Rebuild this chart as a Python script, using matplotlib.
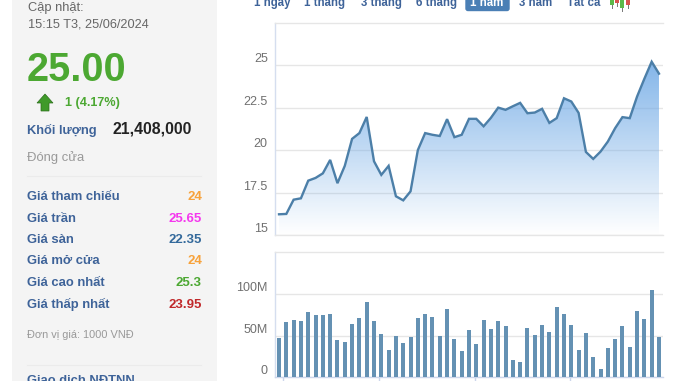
import matplotlib
matplotlib.use("Agg")
import matplotlib.pyplot as plt
import numpy as np
from matplotlib.patches import FancyBboxPatch, Polygon, Rectangle

W, H = 678, 381

prices = [16.22, 16.24, 17.08, 17.16, 18.2, 18.36, 18.63, 19.42, 18.05, 19.07, 20.66, 21.0, 21.95,
          19.34, 18.54, 19.07, 17.28, 17.04, 17.57, 20.0, 21.0, 20.9, 20.83, 21.82, 20.76, 20.9,
          21.84, 21.84, 21.4, 21.9, 22.5, 22.37, 22.58, 22.78, 22.17, 22.21, 22.43, 21.6, 21.88,
          23.05, 22.86, 22.19, 19.89, 19.48, 19.91, 20.5, 21.29, 21.94, 21.88, 23.15, 24.2, 25.2, 24.5]
volumes = [47.2, 66.5, 69, 67.7, 78.6, 75, 75, 76.2, 44.8, 42.3, 64.1, 71.4, 90.7, 67.7, 52, 32.7,
           49.6, 41.1, 48.4, 71.4, 76.2, 72.6, 49.6, 82.3, 46, 31.5, 56.9, 39.9, 69, 58.1, 67.7,
           61.7, 20.6, 18.1, 59.3, 50.8, 62.9, 54.4, 84.7, 76.2, 62.9, 32.7, 53.2, 24.2, 9.7, 35.1,
           46, 61.7, 36.3, 79.8, 70.2, 105.2, 48.4]
price_ticks = [15, 17.5, 20, 22.5, 25]
price_labels = ["15", "17.5", "20", "22.5", "25"]
vol_ticks = [0, 50, 100]
vol_labels = ["0", "50M", "100M"]
vol_xticks = [0.55, 13.7, 26.8, 39.8]

ranges = ["1 ngày", "1 tháng", "3 tháng", "6 tháng", "1 năm", "3 năm", "Tất cả"]
range_x = [272.5, 325, 381, 436, 487, 535.5, 584]

info_labels = ["Giá tham chiếu", "Giá trần", "Giá sàn", "Giá mở cửa", "Giá cao nhất", "Giá thấp nhất"]
info_values = ["24", "25.65", "22.35", "24", "25.3", "23.95"]
info_colors = ["#f7a23b", "#f437ee", "#33699b", "#f7a23b", "#4ca832", "#c0282a"]
info_y = [197, 218.5, 240, 261.5, 283, 304.5]

plt.rcParams["font.family"] = ["Liberation Sans", "DejaVu Sans"]
fig = plt.figure(figsize=(W / 100, H / 100), dpi=100, facecolor="white")


def px_axes(x0, y0, x1, y1):
    return fig.add_axes([x0 / W, 1 - y1 / H, (x1 - x0) / W, (y1 - y0) / H])


# page layer in pixel coordinates
page = fig.add_axes([0, 0, 1, 1])
page.set_xlim(0, W)
page.set_ylim(H, 0)
page.axis("off")

page.add_patch(Rectangle((12, 0), 205, H, fc="#f4f4f4", ec="none"))
page.plot([27, 201], [176, 176], color="#ebebeb", lw=0.8)
page.plot([27, 201], [365, 365], color="#ebebeb", lw=0.8)

BLUE = "#3e6399"
GREEN = "#4ca832"
page.text(27.5, 8.5, "Cập nhật:", fontsize=9.3, color="#666666", va="center")
page.text(27.5, 24.5, "15:15 T3, 25/06/2024", fontsize=9.2, color="#666666", va="center")
page.text(27, 70, "25.00", fontsize=28.5, fontweight="bold", color=GREEN, va="center")
page.add_patch(Polygon([(45, 94), (53, 103), (49, 103), (49, 111), (41, 111), (41, 103), (37, 103)],
                       fc="#3f9a2a", ec="#2c6e1c", lw=0.5))
page.text(65, 103, "1 (4.17%)", fontsize=9.1, fontweight="bold", color=GREEN, va="center")
page.text(27, 130, "Khối lượng", fontsize=9.3, fontweight="bold", color=BLUE, va="center")
page.text(192, 128.5, "21,408,000", fontsize=11.4, fontweight="bold", color="#222222", va="center", ha="right")
page.text(27, 157.5, "Đóng cửa", fontsize=9.4, color="#999999", va="center")

for lab, val, col, y in zip(info_labels, info_values, info_colors, info_y):
    page.text(27, y, lab, fontsize=9.4, fontweight="bold", color=BLUE, va="center")
    page.text(202, y, val, fontsize=9.5, fontweight="bold", color=col, va="center", ha="right")
page.text(27, 335, "Đơn vị giá: 1000 VNĐ", fontsize=7.9, color="#999999", va="center")
page.text(27, 380.5, "Giao dịch NĐTNN", fontsize=9.4, fontweight="bold", color=BLUE, va="center")

# range selector
page.add_patch(FancyBboxPatch((466, -6), 43, 16.5, boxstyle="round,pad=0,rounding_size=2",
                              fc="#4a7fb5", ec="#4a7fb5", lw=1))
for lab, x in zip(ranges, range_x):
    col = "white" if lab == "1 năm" else BLUE
    page.text(x, 3, lab, fontsize=8.3, color=col, va="center", ha="center", fontweight="bold")

# candle icon
for x, bot, col in [(610, 5, "#5cb84a"), (615, 3, "#d9534f"), (620, 8, "#5cb84a"), (626, 5, "#d9534f")]:
    page.plot([x + 2, x + 2], [0, bot + 3], color="#777777", lw=0.7)
    page.add_patch(Rectangle((x, 0), 4, bot, fc=col, ec="none", zorder=3))

# price panel
ax = px_axes(274.7, 22.7, 663, 235)
xs = np.arange(len(prices))
ax.set_xlim(-0.59, 52.55)
ax.set_ylim(15, 27.5)
ax.set_yticks(price_ticks, price_labels)
ax.set_xticks([])
ax.grid(axis="y", color="#e6e6e6", lw=1)
ax.set_axisbelow(True)
grad = np.zeros((256, 2, 4))
grad[:, :, :3] = (0.43, 0.66, 0.90)
grad[:, :, 3] = np.linspace(0.85, 0.0, 256)[:, None]
poly = ax.fill_between(xs, prices, 15, color="none", lw=0)
img = ax.imshow(grad, extent=(xs[0], xs[-1], 15, max(prices)), aspect="auto", zorder=2)
img.set_clip_path(poly.get_paths()[0], transform=ax.transData)
ax.plot(xs, prices, color="#4c7fa8", lw=1.7, zorder=3, solid_joinstyle="miter")
ax.set_xlim(-0.59, 52.55)
ax.set_ylim(15, 27.5)

# volume panel
vx = px_axes(274.7, 252.3, 663, 377)
vx.bar(xs, volumes, width=0.55, color="#6491b3", zorder=3)
vx.set_xlim(-0.59, 52.55)
vx.set_ylim(0, 150.8)
vx.set_yticks(vol_ticks, vol_labels)
vx.set_xticks(vol_xticks, [""] * len(vol_xticks))
vx.grid(axis="y", color="#e6e6e6", lw=1)
vx.set_axisbelow(True)
vx.tick_params(axis="x", length=3, color="#ccd6eb", width=1)

for a in (ax, vx):
    a.set_facecolor("none")
    a.tick_params(axis="y", length=0, pad=5, labelsize=9, labelcolor="#707070")
    for t in a.get_yticklabels():
        t.set_va("bottom")
    a.spines["right"].set_visible(False)
    a.spines["left"].set_color("#d5deef")
    a.spines["top"].set_color("#e6e6e6")
    a.spines["bottom"].set_color("#e6e6e6")
    for s in a.spines.values():
        s.set_linewidth(1)
vx.spines["bottom"].set_color("#ccd6eb")

fig.savefig("out.png", dpi=100)
